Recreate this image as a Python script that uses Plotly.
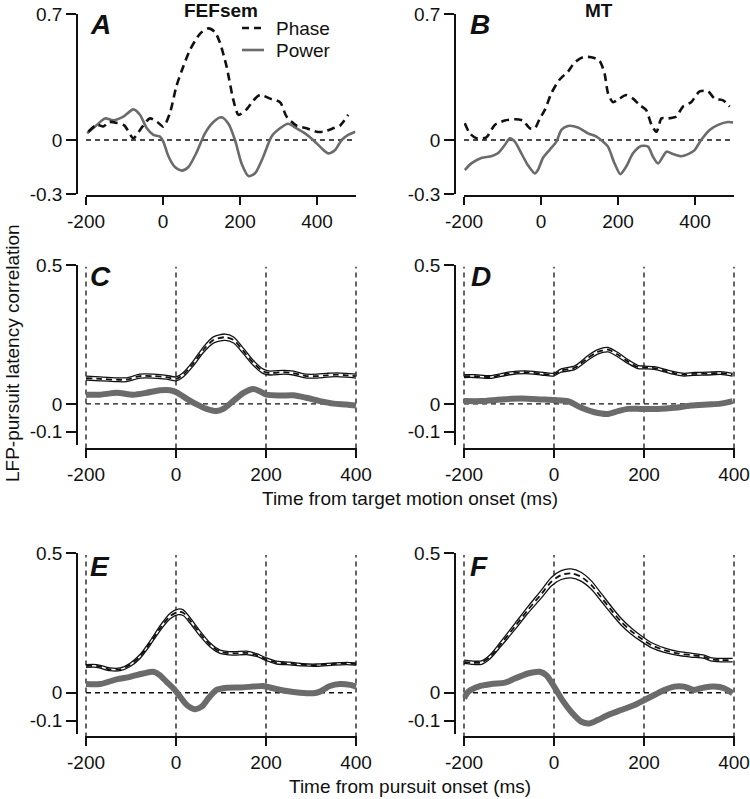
import plotly.graph_objects as go

# ---------------- data ----------------
# Panel A (FEFsem, single-trial example)
a_phase_t = [-194, -172, -155, -140, -120, -100, -77, -55, -34, -15, 1, 18, 35, 53, 70, 96, 118, 135, 148, 165,
             183, 196, 217, 235, 252, 278, 304, 321, 347, 373, 399, 416, 442, 460, 481]
a_phase_v = [0.046, 0.085, 0.075, 0.10, 0.095, 0.08, 0.01, 0.07, 0.12, 0.10, 0.074, 0.15, 0.30, 0.41, 0.50, 0.59,
             0.62, 0.60, 0.54, 0.41, 0.22, 0.14, 0.17, 0.22, 0.25, 0.23, 0.21, 0.13, 0.08, 0.065, 0.046, 0.046,
             0.065, 0.08, 0.14]
a_power_t = [-197, -172, -151, -129, -103, -77, -60, -42, -25, -8, 1, 14, 31, 49, 66, 87, 109, 131, 152, 170, 187,
             204, 222, 239, 261, 282, 304, 325, 347, 369, 390, 412, 429, 447, 464, 481, 500]
a_power_v = [0.037, 0.083, 0.12, 0.11, 0.13, 0.17, 0.14, 0.065, 0.028, 0.019, -0.01, -0.09, -0.15, -0.17, -0.15,
             -0.07, 0.037, 0.10, 0.126, 0.09, 0.0, -0.13, -0.20, -0.185, -0.09, 0.02, 0.065, 0.09, 0.065, 0.037,
             0.0, -0.046, -0.074, -0.055, 0.0, 0.028, 0.046]

# Panel B (MT, single-trial example)
b_phase_t = [-198, -185, -168, -142, -120, -94, -68, -47, -29, -16, -3, 10, 27, 48, 70, 87, 109, 131, 152, 165,
             174, 187, 204, 221, 239, 256, 273, 287, 300, 313, 330, 351, 369, 390, 412, 434, 451, 473, 490]
b_phase_v = [0.093, 0.037, 0.01, 0.015, 0.084, 0.108, 0.115, 0.108, 0.065, 0.065, 0.12, 0.167, 0.26, 0.335, 0.38,
             0.43, 0.46, 0.46, 0.44, 0.37, 0.26, 0.21, 0.23, 0.25, 0.23, 0.195, 0.167, 0.084, 0.046, 0.12, 0.12,
             0.13, 0.186, 0.21, 0.27, 0.27, 0.23, 0.22, 0.186]
b_power_t = [-198, -181, -155, -129, -112, -94, -81, -68, -51, -34, -16, -8, 5, 22, 40, 53, 70, 96, 122, 144, 161,
             174, 191, 206, 221, 239, 260, 278, 291, 304, 326, 343, 364, 386, 399, 416, 438, 460, 486, 499]
b_power_v = [-0.167, -0.13, -0.10, -0.09, -0.074, -0.028, 0.009, -0.009, -0.074, -0.14, -0.186, -0.167, -0.10,
             -0.056, -0.009, 0.056, 0.078, 0.07, 0.037, 0.019, -0.009, -0.037, -0.13, -0.19, -0.149, -0.074,
             -0.033, -0.037, -0.093, -0.13, -0.065, -0.078, -0.09, -0.074, -0.056, 0.0, 0.056, 0.084, 0.10, 0.097]

# Panel C (FEFsem, aligned on target motion onset)
c_phase_t = [-200, -169, -132, -110, -80, -50, -21, 0, 16, 39, 61, 83, 109, 128, 150, 172, 194, 209, 239, 261,
             290, 313, 335, 357, 379, 400]
c_phase_v = [0.093, 0.09, 0.087, 0.087, 0.10, 0.10, 0.096, 0.09, 0.105, 0.147, 0.195, 0.23, 0.240, 0.23, 0.19,
             0.147, 0.117, 0.111, 0.114, 0.111, 0.10, 0.10, 0.103, 0.105, 0.103, 0.10]
c_phase_sem = [0.007, 0.007, 0.007, 0.007, 0.007, 0.007, 0.007, 0.007, 0.008, 0.009, 0.010, 0.011, 0.0115, 0.011,
               0.010, 0.009, 0.008, 0.007, 0.007, 0.007, 0.007, 0.007, 0.007, 0.007, 0.007, 0.007]
c_power_t = [-200, -169, -132, -95, -65, -36, -13, 1, 24, 46, 68, 90, 105, 127, 150, 172, 187, 201, 231, 261, 290,
             320, 350, 379, 400]
c_power_v = [0.033, 0.033, 0.04, 0.033, 0.04, 0.049, 0.049, 0.042, 0.018, -0.002, -0.018, -0.026, -0.018, 0.01,
             0.04, 0.054, 0.045, 0.033, 0.03, 0.031, 0.022, 0.01, 0.001, -0.002, -0.006]

# Panel D (MT, aligned on target motion onset)
d_phase_t = [-200, -176, -139, -102, -65, -28, -2, 16, 46, 75, 97, 120, 142, 164, 186, 201, 223, 245, 267, 289,
             311, 341, 370, 397]
d_phase_v = [0.10, 0.10, 0.097, 0.109, 0.114, 0.109, 0.105, 0.12, 0.13, 0.165, 0.187, 0.195, 0.177, 0.153, 0.133,
             0.131, 0.129, 0.12, 0.111, 0.105, 0.108, 0.109, 0.111, 0.105]
d_phase_sem = [0.005, 0.005, 0.005, 0.005, 0.005, 0.005, 0.005, 0.006, 0.007, 0.008, 0.008, 0.008, 0.008, 0.007,
               0.006, 0.005, 0.005, 0.005, 0.005, 0.005, 0.005, 0.005, 0.005, 0.005]
d_power_t = [-200, -161, -117, -72, -28, 1, 31, 61, 90, 120, 142, 164, 193, 230, 267, 304, 341, 370, 397]
d_power_v = [0.01, 0.01, 0.016, 0.019, 0.016, 0.014, 0.01, -0.014, -0.03, -0.036, -0.026, -0.018, -0.018, -0.018,
             -0.014, -0.006, -0.002, 0.001, 0.01]

# Panel E (FEFsem, aligned on pursuit onset)
e_phase_t = [-200, -176, -147, -124, -102, -80, -58, -36, -13, 5, 16, 31, 53, 76, 98, 127, 157, 179, 201, 224,
             253, 283, 313, 350, 379, 400]
e_phase_v = [0.096, 0.096, 0.084, 0.084, 0.10, 0.13, 0.177, 0.23, 0.275, 0.29, 0.287, 0.26, 0.213, 0.171, 0.147,
             0.141, 0.143, 0.135, 0.12, 0.108, 0.105, 0.10, 0.099, 0.103, 0.105, 0.103]
e_phase_sem = [0.005, 0.005, 0.005, 0.005, 0.006, 0.007, 0.008, 0.009, 0.010, 0.010, 0.010, 0.010, 0.009, 0.007,
               0.006, 0.006, 0.006, 0.005, 0.005, 0.005, 0.005, 0.004, 0.004, 0.004, 0.004, 0.004]
e_power_t = [-200, -169, -132, -102, -73, -50, -36, -21, -6, 9, 24, 42, 57, 72, 90, 113, 142, 172, 194, 216, 246,
             276, 305, 320, 342, 364, 387, 400]
e_power_v = [0.031, 0.031, 0.048, 0.057, 0.069, 0.075, 0.063, 0.039, 0.016, -0.014, -0.044, -0.059, -0.05, -0.02,
             0.01, 0.018, 0.019, 0.022, 0.024, 0.016, 0.006, 0.0, -0.002, 0.004, 0.024, 0.031, 0.028, 0.022]

# Panel F (MT, aligned on pursuit onset)
f_phase_t = [-200, -183, -161, -142, -117, -87, -58, -28, -6, 16, 38, 60, 83, 105, 127, 149, 171, 193, 216, 245,
             275, 304, 334, 348, 370, 397]
f_phase_v = [0.111, 0.108, 0.108, 0.129, 0.177, 0.237, 0.297, 0.354, 0.398, 0.422, 0.428, 0.416, 0.386, 0.342,
             0.297, 0.255, 0.222, 0.195, 0.171, 0.153, 0.141, 0.135, 0.129, 0.12, 0.117, 0.117]
f_phase_sem = [0.006, 0.006, 0.006, 0.007, 0.009, 0.011, 0.012, 0.014, 0.015, 0.016, 0.016, 0.016, 0.015, 0.014,
               0.013, 0.012, 0.011, 0.010, 0.009, 0.008, 0.007, 0.007, 0.006, 0.006, 0.006, 0.006]
f_power_t = [-200, -190, -168, -139, -109, -87, -58, -32, -17, -2, 16, 38, 61, 79, 97, 120, 149, 179, 201, 223,
             245, 267, 289, 311, 334, 356, 378, 397]
f_power_v = [-0.02, 0.004, 0.022, 0.031, 0.036, 0.051, 0.069, 0.075, 0.063, 0.028, -0.02, -0.068, -0.104, -0.11,
             -0.098, -0.08, -0.062, -0.044, -0.026, -0.008, 0.01, 0.022, 0.022, 0.01, 0.019, 0.022, 0.016, -0.002]

top_xticks = [-200, 0, 200, 400]
top_xticklabels = ["-200", "0", "200", "400"]
top_yticks = [-0.3, 0, 0.7]
top_yticklabels = ["-0.3", "0", "0.7"]
low_xticks = [-200, 0, 200, 400]
low_xticklabels = ["-200", "0", "200", "400"]
low_yticks = [-0.1, 0, 0.5]
low_yticklabels = ["-0.1", "0", "0.5"]
vlines = [-200, 0, 200, 400]

column_titles = ["FEFsem", "MT"]
panel_letters = ["A", "B", "C", "D", "E", "F"]
legend_names = ["Phase", "Power"]
ytitle = "LFP-pursuit latency correlation"
xtitle_mid = "Time from target motion onset (ms)"
xtitle_bot = "Time from pursuit onset (ms)"

# ---------------- layout helpers ----------------
W, H = 750, 799
FONT = "Liberation Sans, Arial, Helvetica, sans-serif"
GRAY = "#6b6b6b"


def fx(p):
    return p / W


def fy(p):
    return 1 - p / H


# lower panels: range padded by 3 ms (1.35 px) each side so edge reference lines are not clipped
panels = [
    dict(xpx=(86, 355.5), ypx=(14, 194), yl=77, xl=196, xr=[-200, 500], yr=[-0.3, 0.7], top=True),
    dict(xpx=(464, 733.5), ypx=(14, 194), yl=455, xl=196, xr=[-200, 500], yr=[-0.3, 0.7], top=True),
    dict(xpx=(84.65, 357.35), ypx=(265, 445), yl=77, xl=449, xr=[-203, 403], yr=[-0.148, 0.5], top=False),
    dict(xpx=(462.65, 735.35), ypx=(265, 445), yl=455, xl=449, xr=[-203, 403], yr=[-0.148, 0.5], top=False),
    dict(xpx=(84.65, 357.35), ypx=(553.3, 734), yl=77, xl=737, xr=[-203, 403], yr=[-0.148, 0.5], top=False),
    dict(xpx=(462.65, 735.35), ypx=(553.3, 734), yl=455, xl=737, xr=[-203, 403], yr=[-0.148, 0.5], top=False),
]

fig = go.Figure()
layout = dict(
    width=W, height=H, margin=dict(l=0, r=0, t=0, b=0, autoexpand=False),
    paper_bgcolor="white", plot_bgcolor="rgba(0,0,0,0)",
    showlegend=False, font=dict(family=FONT, size=19, color="#111"),
)
shapes = []
annotations = []

for i, p in enumerate(panels):
    n = i + 1
    xa = "xaxis" if n == 1 else f"xaxis{n}"
    ya = "yaxis" if n == 1 else f"yaxis{n}"
    xref = "x" if n == 1 else f"x{n}"
    yref = "y" if n == 1 else f"y{n}"
    layout[xa] = dict(
        domain=[fx(p["xpx"][0]), fx(p["xpx"][1])], range=p["xr"], anchor="free", position=fy(p["xl"]),
        showline=True, linecolor="#111", linewidth=1.5, ticks="outside", ticklen=8, tickwidth=1.5,
        tickcolor="#111", tickvals=top_xticks if p["top"] else low_xticks,
        ticktext=top_xticklabels if p["top"] else low_xticklabels, automargin=False,
        showgrid=False, zeroline=False, tickfont=dict(size=19, family=FONT, color="#111"), fixedrange=True,
    )
    layout[ya] = dict(
        domain=[fy(p["ypx"][1]), fy(p["ypx"][0])], range=p["yr"], anchor="free", position=fx(p["yl"]),
        showline=True, linecolor="#111", linewidth=1.5, ticks="outside", ticklen=10, tickwidth=1.5,
        tickcolor="#111", tickvals=top_yticks if p["top"] else low_yticks,
        ticktext=top_yticklabels if p["top"] else low_yticklabels, automargin=False,
        showgrid=False, zeroline=False, tickfont=dict(size=19, family=FONT, color="#111"), fixedrange=True,
    )
    x_lo = -200
    x_hi = 500 if p["top"] else 400
    shapes.append(dict(type="line", xref=xref, x0=x_lo, x1=x_hi, yref=yref, y0=0, y1=0,
                       line=dict(color="#111", width=1.3, dash="5px,4px"), layer="below"))
    if not p["top"]:
        for v in vlines:
            shapes.append(dict(type="line", xref=xref, x0=v, x1=v, yref=f"{yref} domain", y0=-0.02, y1=0.99,
                               line=dict(color="#111", width=1.3, dash="5px,4px"), layer="below"))

# ---- traces: top row
for n, (pt, pv, wt, wv) in zip([1, 2], [(a_phase_t, a_phase_v, a_power_t, a_power_v),
                                      (b_phase_t, b_phase_v, b_power_t, b_power_v)]):
    xref = "x" if n == 1 else f"x{n}"
    yref = "y" if n == 1 else f"y{n}"
    fig.add_trace(go.Scatter(x=wt, y=wv, xaxis=xref, yaxis=yref, mode="lines", name=legend_names[1],
                             line=dict(color=GRAY, width=2.6, shape="spline", smoothing=0.7)))
    fig.add_trace(go.Scatter(x=pt, y=pv, xaxis=xref, yaxis=yref, mode="lines", name=legend_names[0],
                             line=dict(color="#111", width=2.6, dash="8px,5px", shape="spline", smoothing=0.7)))

# ---- traces: lower rows
lower = [
    (3, c_phase_t, c_phase_v, c_phase_sem, c_power_t, c_power_v),
    (4, d_phase_t, d_phase_v, d_phase_sem, d_power_t, d_power_v),
    (5, e_phase_t, e_phase_v, e_phase_sem, e_power_t, e_power_v),
    (6, f_phase_t, f_phase_v, f_phase_sem, f_power_t, f_power_v),
]
for n, pt, pv, ps, wt, wv in lower:
    xref, yref = f"x{n}", f"y{n}"
    fig.add_trace(go.Scatter(x=wt, y=wv, xaxis=xref, yaxis=yref, mode="lines", name=legend_names[1],
                             line=dict(color=GRAY, width=6, shape="spline", smoothing=0.7)))
    upper = [v + s for v, s in zip(pv, ps)]
    lowr = [v - s for v, s in zip(pv, ps)]
    fig.add_trace(go.Scatter(x=pt, y=upper, xaxis=xref, yaxis=yref, mode="lines",
                             line=dict(color="#111", width=1.3, shape="spline", smoothing=0.7)))
    fig.add_trace(go.Scatter(x=pt, y=lowr, xaxis=xref, yaxis=yref, mode="lines", fill="tonexty",
                             fillcolor="white",
                             line=dict(color="#111", width=1.3, shape="spline", smoothing=0.7)))
    fig.add_trace(go.Scatter(x=pt, y=pv, xaxis=xref, yaxis=yref, mode="lines", name=legend_names[0],
                             line=dict(color="#111", width=1.8, dash="6px,4px", shape="spline", smoothing=0.7)))

# ---- legend (manual, inside panel A)
shapes.append(dict(type="line", xref="paper", yref="paper", x0=fx(242), x1=fx(264), y0=fy(28), y1=fy(28),
                   line=dict(color="#111", width=2.6, dash="7px,5px")))
shapes.append(dict(type="line", xref="paper", yref="paper", x0=fx(242), x1=fx(264), y0=fy(50), y1=fy(50),
                   line=dict(color=GRAY, width=2.6)))
annotations.append(dict(xref="paper", yref="paper", x=fx(274), y=fy(28), text=legend_names[0], showarrow=False,
                        xanchor="left", yanchor="middle", font=dict(size=19, family=FONT, color="#111")))
annotations.append(dict(xref="paper", yref="paper", x=fx(274), y=fy(50), text=legend_names[1], showarrow=False,
                        xanchor="left", yanchor="middle", font=dict(size=19, family=FONT, color="#111")))

# ---- column titles
for txt, cx in zip(column_titles, [221, 599]):
    annotations.append(dict(xref="paper", yref="paper", x=fx(cx), y=fy(10), text=f"<b>{txt}</b>", showarrow=False,
                            xanchor="center", yanchor="middle", font=dict(size=19, family=FONT, color="#111")))

# ---- panel letters
letter_pos = [(101, 24), (480, 25), (101, 276), (481, 276), (100, 566), (479, 566)]
for L, (lx, ly) in zip(panel_letters, letter_pos):
    annotations.append(dict(xref="paper", yref="paper", x=fx(lx), y=fy(ly), text=f"<b><i>{L}</i></b>",
                            showarrow=False, xanchor="center", yanchor="middle",
                            font=dict(size=28, family=FONT, color="#111")))

# ---- axis titles
annotations.append(dict(xref="paper", yref="paper", x=fx(12), y=fy(353), text=ytitle, textangle=-90,
                        showarrow=False, xanchor="center", yanchor="middle",
                        font=dict(size=19, family=FONT, color="#111")))
annotations.append(dict(xref="paper", yref="paper", x=fx(410), y=fy(499), text=xtitle_mid, showarrow=False,
                        xanchor="center", yanchor="middle", font=dict(size=19, family=FONT, color="#111")))
annotations.append(dict(xref="paper", yref="paper", x=fx(410), y=fy(786), text=xtitle_bot, showarrow=False,
                        xanchor="center", yanchor="middle", font=dict(size=19, family=FONT, color="#111")))

layout["shapes"] = shapes
layout["annotations"] = annotations
fig.update_layout(**layout)
fig.write_html("out.html", config={"displayModeBar": False},
               post_script="document.body.style.margin='0';document.body.style.overflow='hidden';")
